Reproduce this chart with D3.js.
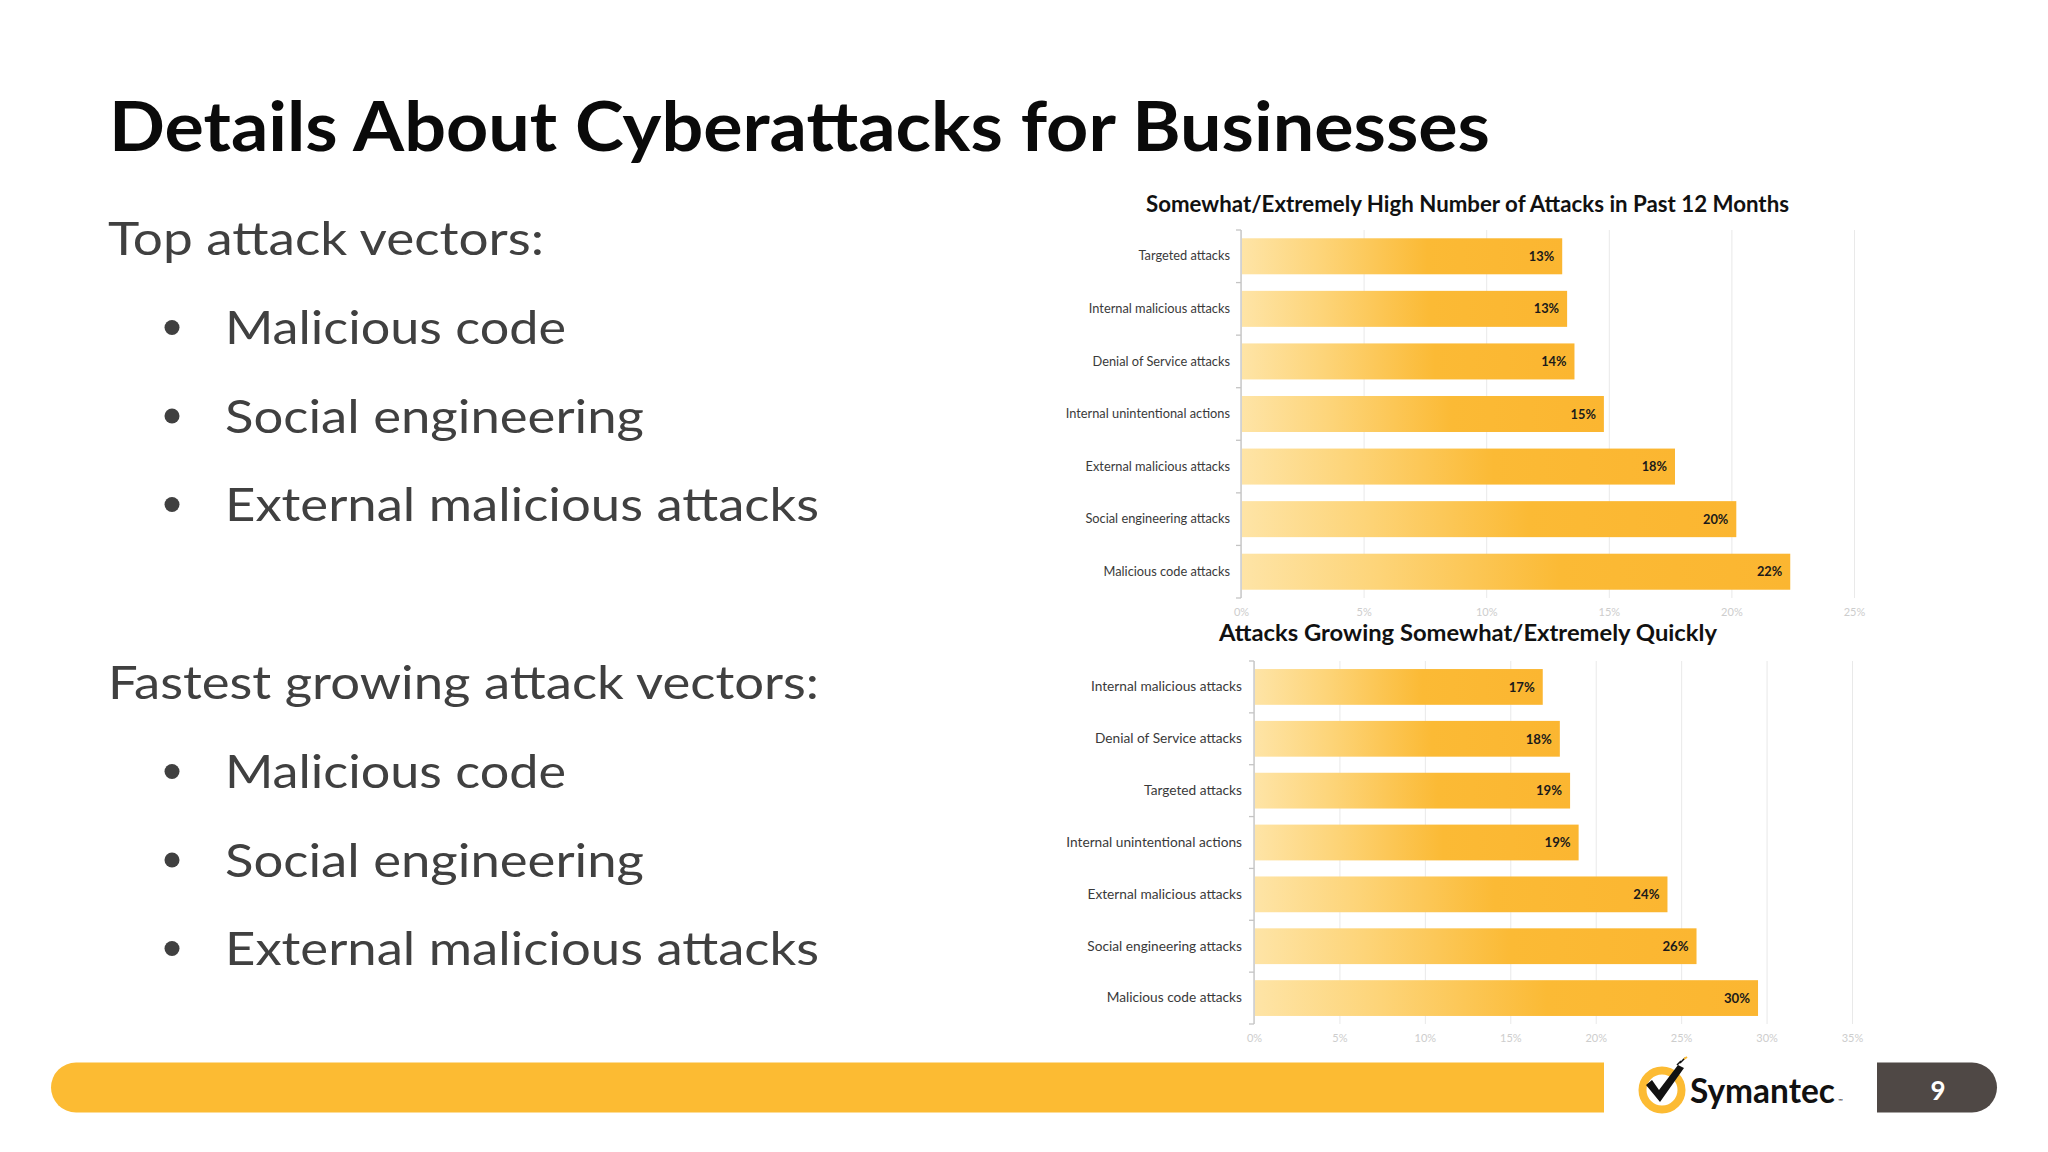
<!DOCTYPE html>
<html>
<head>
<meta charset="utf-8">
<script src="https://cdn.jsdelivr.net/npm/d3@7/dist/d3.min.js"></script>
<style>
  html, body { margin: 0; padding: 0; background: #ffffff; }
  svg { display: block; }
</style>
</head>
<body>
<svg id="slide" width="2048" height="1152"></svg>
<script>
// ---------- DATA ----------
const slideTitle = "Details About Cyberattacks for Businesses";
const topHeading = "Top attack vectors:";
const topBullets = ["Malicious code", "Social engineering", "External malicious attacks"];
const fastHeading = "Fastest growing attack vectors:";
const fastBullets = ["Malicious code", "Social engineering", "External malicious attacks"];

const chart1Title = "Somewhat/Extremely High Number of Attacks in Past 12 Months";
const chart1Categories = ["Targeted attacks", "Internal malicious attacks", "Denial of Service attacks",
  "Internal unintentional actions", "External malicious attacks", "Social engineering attacks", "Malicious code attacks"];
const chart1Values = [13.1, 13.3, 13.6, 14.8, 17.7, 20.2, 22.4];
const chart1Labels = ["13%", "13%", "14%", "15%", "18%", "20%", "22%"];
const chart1Ticks = [0, 5, 10, 15, 20, 25];

const chart2Title = "Attacks Growing Somewhat/Extremely Quickly";
const chart2Categories = ["Internal malicious attacks", "Denial of Service attacks", "Targeted attacks",
  "Internal unintentional actions", "External malicious attacks", "Social engineering attacks", "Malicious code attacks"];
const chart2Values = [16.9, 17.9, 18.5, 19.0, 24.2, 25.9, 29.5];
const chart2Labels = ["17%", "18%", "19%", "19%", "24%", "26%", "30%"];
const chart2Ticks = [0, 5, 10, 15, 20, 25, 30, 35];

const pageNumber = "9";
const brandName = "Symantec";

// ---------- STYLE ----------
const YELLOW = "#fcbb33";
const TEXT = "#404040";
const svg = d3.select("#slide");

// gradient for bars
const defs = svg.append("defs");
const grad = defs.append("linearGradient").attr("id", "barGrad")
  .attr("x1", "0").attr("y1", "0").attr("x2", "1").attr("y2", "0");
grad.append("stop").attr("offset", "0").attr("stop-color", "#fee4a6");
grad.append("stop").attr("offset", "0.25").attr("stop-color", "#fdd478");
grad.append("stop").attr("offset", "0.58").attr("stop-color", "#fbba35");
grad.append("stop").attr("offset", "1").attr("stop-color", "#fbb631");

// ---------- LEFT TEXT ----------
svg.append("text")
  .attr("x", 109).attr("y", 151)
  .attr("font-family", "Lato, 'Open Sans', sans-serif")
  .attr("font-weight", 700).attr("font-size", 68)
  .attr("fill", "#0a0a0a")
  .attr("textLength", 1381).attr("lengthAdjust", "spacingAndGlyphs")
  .text(slideTitle);

function textBlock(heading, bullets, headBaseline, headWidth, bulletWidths) {
  svg.append("text")
    .attr("x", 108).attr("y", headBaseline)
    .attr("font-family", "Lato, 'Open Sans', sans-serif")
    .attr("font-size", 46).attr("fill", TEXT)
    .attr("textLength", headWidth).attr("lengthAdjust", "spacingAndGlyphs")
    .text(heading);
  bullets.forEach((b, i) => {
    const base = headBaseline + 89 + i * 88.5;
    svg.append("circle").attr("cx", 172).attr("cy", base - 16.5).attr("r", 7.5).attr("fill", TEXT);
    svg.append("text")
      .attr("x", 225).attr("y", base)
      .attr("font-family", "Lato, 'Open Sans', sans-serif")
      .attr("font-size", 46).attr("fill", TEXT)
      .attr("textLength", bulletWidths[i]).attr("lengthAdjust", "spacingAndGlyphs")
      .text(b);
  });
}
textBlock(topHeading, topBullets, 255, 436, [341, 419, 594]);
textBlock(fastHeading, fastBullets, 699, 711, [341, 419, 594]);

// ---------- CHARTS ----------
function drawChart(cfg) {
  const g = svg.append("g");
  const x = d3.scaleLinear().domain([0, d3.max(cfg.ticks)]).range([cfg.x0, cfg.x1]);
  const y = d3.scaleBand().domain(cfg.categories).range([cfg.y0, cfg.y1])
    .paddingInner(cfg.pad).paddingOuter(cfg.pad / 2);

  // title
  g.append("text")
    .attr("x", cfg.titleX).attr("y", cfg.titleY)
    .attr("text-anchor", "middle")
    .attr("font-family", "Lato, 'Open Sans', sans-serif")
    .attr("font-weight", 700).attr("font-size", 22).attr("fill", "#111")
    .attr("textLength", cfg.titleW).attr("lengthAdjust", "spacingAndGlyphs")
    .text(cfg.title);

  // gridlines
  const grid = g.append("g")
    .attr("transform", `translate(0,${cfg.y1})`)
    .call(d3.axisBottom(x).tickValues(cfg.ticks).tickSize(-(cfg.y1 - cfg.y0)).tickFormat(""));
  grid.select(".domain").remove();
  grid.selectAll(".tick text").remove();
  grid.selectAll(".tick line").attr("stroke", "#e9e9e9").attr("stroke-width", 1);

  // x tick labels
  const xa = g.append("g")
    .attr("transform", `translate(0,${cfg.y1})`)
    .call(d3.axisBottom(x).tickValues(cfg.ticks).tickSize(0).tickPadding(cfg.tickPad).tickFormat(d => d + "%"));
  xa.select(".domain").remove();
  xa.selectAll("text")
    .attr("font-family", "Lato, 'Open Sans', sans-serif")
    .attr("font-size", 11).attr("fill", "#cdcdcd");

  // bars
  g.selectAll("rect.bar").data(cfg.values).join("rect")
    .attr("class", "bar")
    .attr("x", x(0) + 1)
    .attr("y", (d, i) => y(cfg.categories[i]))
    .attr("width", d => x(d) - x(0) - 1)
    .attr("height", y.bandwidth())
    .attr("fill", "url(#barGrad)");

  // value labels
  g.selectAll("text.val").data(cfg.values).join("text")
    .attr("class", "val")
    .attr("x", d => x(d) - 8)
    .attr("y", (d, i) => y(cfg.categories[i]) + y.bandwidth() / 2)
    .attr("dy", "0.36em")
    .attr("text-anchor", "end")
    .attr("font-family", "Lato, 'Open Sans', sans-serif")
    .attr("font-weight", 700).attr("font-size", cfg.valSize).attr("fill", "#1a1a1a")
    .text((d, i) => cfg.labels[i]);

  // y axis labels
  const ya = g.append("g")
    .attr("transform", `translate(${cfg.x0},0)`)
    .call(d3.axisLeft(y).tickSize(0).tickPadding(cfg.labelPad));
  ya.select(".domain").remove();
  ya.selectAll("text")
    .attr("font-family", "Lato, 'Open Sans', sans-serif")
    .attr("font-size", cfg.labelSize).attr("fill", "#3a3a3a");

  // axis line + boundary ticks
  g.append("line")
    .attr("x1", cfg.x0).attr("x2", cfg.x0).attr("y1", cfg.y0).attr("y2", cfg.y1)
    .attr("stroke", "#c4c4c4").attr("stroke-width", 1.3);
  const bounds = d3.range(cfg.categories.length + 1).map(i => cfg.y0 + i * y.step());
  g.selectAll("line.bt").data(bounds).join("line")
    .attr("class", "bt")
    .attr("x1", cfg.x0 - 5).attr("x2", cfg.x0)
    .attr("y1", d => d).attr("y2", d => d)
    .attr("stroke", "#c4c4c4").attr("stroke-width", 1.3);
}

drawChart({
  title: chart1Title, categories: chart1Categories, values: chart1Values, labels: chart1Labels, ticks: chart1Ticks,
  x0: 1241, x1: 1854, y0: 230, y1: 598, pad: 0.315,
  titleX: 1467.5, titleY: 211.5, titleW: 643, tickPad: 10, labelPad: 11, labelSize: 12.8, valSize: 12.8
});
drawChart({
  title: chart2Title, categories: chart2Categories, values: chart2Values, labels: chart2Labels, ticks: chart2Ticks,
  x0: 1254, x1: 1852, y0: 661, y1: 1024, pad: 0.31,
  titleX: 1468, titleY: 640.5, titleW: 498, tickPad: 10, labelPad: 12, labelSize: 13.7, valSize: 13.2
});

// ---------- FOOTER ----------
const fy0 = 1062.5, fy1 = 1112.5, fr = (fy1 - fy0) / 2;
svg.append("path")
  .attr("d", `M${51 + fr},${fy0} H1604 V${fy1} H${51 + fr} A${fr},${fr} 0 0 1 ${51 + fr},${fy0} Z`)
  .attr("fill", YELLOW);

svg.append("path")
  .attr("d", `M1877,${fy0} H${1997 - fr} A${fr},${fr} 0 0 1 ${1997 - fr},${fy1} H1877 Z`)
  .attr("fill", "#4f4845");
svg.append("text")
  .attr("x", 1938).attr("y", 1099.5)
  .attr("text-anchor", "middle")
  .attr("font-family", "Lato, 'Open Sans', sans-serif")
  .attr("font-weight", 700).attr("font-size", 26).attr("fill", "#ffffff")
  .text(pageNumber);

// logo
const lg = svg.append("g").attr("transform", "translate(1662,1090)");
lg.append("circle").attr("r", 19.5).attr("fill", "#ffffff").attr("stroke", YELLOW).attr("stroke-width", 8);
lg.append("path")
  .attr("d", "M-16,-5 L-10,-10 L-3,0 L16,-25 L22,-22 L-2,12 Z")
  .attr("fill", "#111111");
lg.append("path")
  .attr("d", "M15,-25 l4,-4 M18,-27 l4,-4 M20,-29 l3,-3")
  .attr("stroke", "#111").attr("stroke-width", 1.5);
lg.append("path").attr("d", "M22,-31 l3,-2").attr("stroke", YELLOW).attr("stroke-width", 2);
const brand = svg.append("text")
  .attr("x", 1690).attr("y", 1103)
  .attr("font-family", "Lato, 'Open Sans', sans-serif")
  .attr("font-weight", 700).attr("font-size", 36).attr("fill", "#111111")
  .text(brandName);
// fit the brand word to its width in the reference by font size (no textLength)
const natW = brand.node().getComputedTextLength();
const brandSize = 36 * Math.min(1, 145 / natW);
brand.attr("font-size", brandSize);
const brandW = brand.node().getComputedTextLength();
svg.append("text")
  .attr("x", 1690 + brandW + 3).attr("y", 1103)
  .attr("font-family", "Lato, sans-serif")
  .attr("font-size", 6).attr("fill", "#111111")
  .text("™");
</script>
</body>
</html>
